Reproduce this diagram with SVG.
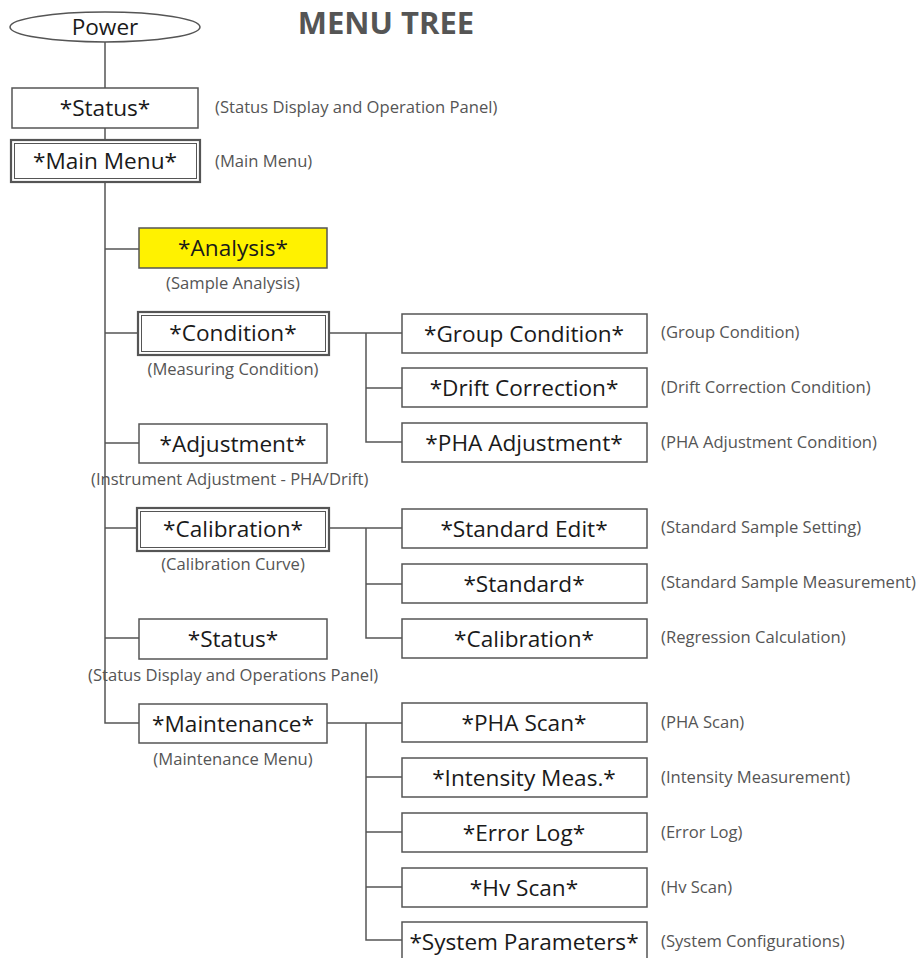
<svg xmlns="http://www.w3.org/2000/svg" width="924" height="958" viewBox="0 0 924 958">
<style>
.bx{fill:#fff;stroke:#555;stroke-width:1.5}
.dbo{fill:#fff;stroke:#555;stroke-width:2.2}
.dbi{fill:none;stroke:#555;stroke-width:1}
.t{font-family:"Open Sans","Noto Sans",sans-serif;font-size:22.6px;fill:#1a1a1a;text-anchor:middle}
.l{font-family:"Open Sans","Noto Sans",sans-serif;font-size:16.6px;fill:#555}
.lc{text-anchor:middle}
.c{fill:none;stroke:#555;stroke-width:1.5}
</style>
<rect width="924" height="958" fill="#fff"/>
<text x="386" y="34" font-family="'Open Sans','Noto Sans',sans-serif" font-size="31" font-weight="bold" fill="#555" text-anchor="middle">MENU TREE</text>
<g id="connectors">
<path class="c" d="M105 42V88M105 128V140M105 182V723H139M105 249H139M105 333H138M105 443H139M105 528H137M105 638H139"/>
<path class="c" d="M329 333H402M366 333V442H402M366 388H402"/>
<path class="c" d="M329 528H402M366 528V638H402M366 584H402"/>
<path class="c" d="M327 723H402M366 723V940H402M366 777H402M366 832H402M366 887H402"/>
</g>
<g id="power"><ellipse cx="105" cy="27" rx="95" ry="15" fill="#fff" stroke="#555" stroke-width="1.5"/><text class="t" x="105" y="35">Power</text></g>
<g id="status"><rect class="bx" x="12" y="88" width="186" height="40"/><text class="t" x="105" y="116">*Status*</text><text class="l" x="215" y="113">(Status Display and Operation Panel)</text></g>
<g id="mainmenu"><rect class="dbo" x="11" y="140" width="189" height="42"/><rect class="dbi" x="14.5" y="143.5" width="182" height="35"/><text class="t" x="105" y="169">*Main Menu*</text><text class="l" x="215" y="167">(Main Menu)</text></g>
<g id="analysis"><rect x="139" y="228" width="188" height="40" fill="#fff200" stroke="#555" stroke-width="1.5"/><text class="t" x="233" y="256">*Analysis*</text><text class="l lc" x="233" y="289">(Sample Analysis)</text></g>
<g id="condition"><rect class="dbo" x="138" y="312" width="191" height="43"/><rect class="dbi" x="141.5" y="315.5" width="184" height="36"/><text class="t" x="233" y="341">*Condition*</text><text class="l lc" x="233" y="375">(Measuring Condition)</text></g>
<g id="groupcond"><rect class="bx" x="402" y="314" width="245" height="39"/><text class="t" x="524" y="342">*Group Condition*</text><text class="l" x="661" y="338">(Group Condition)</text></g>
<g id="driftcorr"><rect class="bx" x="402" y="368" width="245" height="39"/><text class="t" x="524" y="396">*Drift Correction*</text><text class="l" x="661" y="393">(Drift Correction Condition)</text></g>
<g id="phaadj"><rect class="bx" x="402" y="423" width="245" height="39"/><text class="t" x="524" y="451">*PHA Adjustment*</text><text class="l" x="661" y="448">(PHA Adjustment Condition)</text></g>
<g id="adjustment"><rect class="bx" x="139" y="424" width="188" height="39"/><text class="t" x="233" y="452">*Adjustment*</text><text class="l" x="91" y="485">(Instrument Adjustment - PHA/Drift)</text></g>
<g id="calibration"><rect class="dbo" x="137" y="508" width="192" height="43"/><rect class="dbi" x="140.5" y="511.5" width="185" height="36"/><text class="t" x="233" y="537">*Calibration*</text><text class="l lc" x="233" y="570">(Calibration Curve)</text></g>
<g id="stdedit"><rect class="bx" x="402" y="509" width="245" height="39"/><text class="t" x="524" y="537">*Standard Edit*</text><text class="l" x="661" y="533">(Standard Sample Setting)</text></g>
<g id="standard"><rect class="bx" x="402" y="564" width="245" height="39"/><text class="t" x="524" y="592">*Standard*</text><text class="l" x="661" y="588">(Standard Sample Measurement)</text></g>
<g id="calib2"><rect class="bx" x="402" y="619" width="245" height="39"/><text class="t" x="524" y="647">*Calibration*</text><text class="l" x="661" y="643">(Regression Calculation)</text></g>
<g id="status2"><rect class="bx" x="139" y="619" width="188" height="40"/><text class="t" x="233" y="647">*Status*</text><text class="l" x="88" y="681">(Status Display and Operations Panel)</text></g>
<g id="maintenance"><rect class="bx" x="139" y="704" width="188" height="39"/><text class="t" x="233" y="732">*Maintenance*</text><text class="l lc" x="233" y="765">(Maintenance Menu)</text></g>
<g id="phascan"><rect class="bx" x="402" y="703" width="245" height="39"/><text class="t" x="524" y="731">*PHA Scan*</text><text class="l" x="661" y="728">(PHA Scan)</text></g>
<g id="intensity"><rect class="bx" x="402" y="758" width="245" height="39"/><text class="t" x="524" y="786">*Intensity Meas.*</text><text class="l" x="661" y="783">(Intensity Measurement)</text></g>
<g id="errorlog"><rect class="bx" x="402" y="813" width="245" height="39"/><text class="t" x="524" y="841">*Error Log*</text><text class="l" x="661" y="838">(Error Log)</text></g>
<g id="hvscan"><rect class="bx" x="402" y="868" width="245" height="39"/><text class="t" x="524" y="896">*Hv Scan*</text><text class="l" x="661" y="893">(Hv Scan)</text></g>
<g id="sysparam"><rect class="bx" x="402" y="922" width="245" height="40"/><text class="t" x="524" y="950">*System Parameters*</text><text class="l" x="661" y="947">(System Configurations)</text></g>
</svg>
